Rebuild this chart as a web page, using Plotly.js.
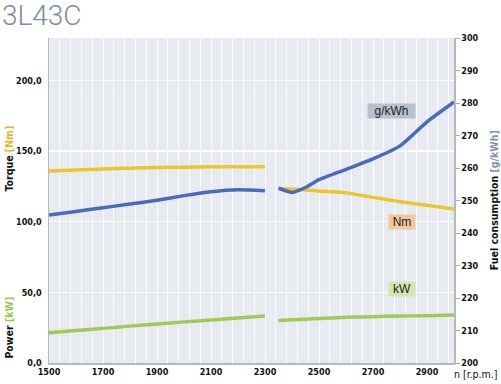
<!DOCTYPE html>
<html><head><meta charset="utf-8">
<script src="https://cdn.plot.ly/plotly-3.0.1.min.js"></script>
<style>html,body{margin:0;padding:0;background:#fff}#chart{width:501px;height:384px}</style>
</head><body><div id="chart"></div>
<script>
// rpm values (null = gap between measured segments)
var rpm = [1500,1600,1700,1800,1900,2000,2100,2200,2300,null,2350,2400,2450,2500,2600,2700,2800,2900,3000];
var torqueNm = [135.8,136.6,137.3,137.9,138.3,138.6,138.8,138.8,138.8,null,123.5,123.0,122.5,121.8,120.4,117.2,114.2,111.7,109.0];
var powerKW = [21.4,23.0,24.5,26.1,27.6,29.1,30.5,31.9,33.3,null,30.1,30.6,31.0,31.5,32.3,32.8,33.2,33.5,33.9];
var fuelGkWh = [245.5,246.6,247.8,248.9,250.1,251.5,252.7,253.3,253.0,null,253.8,252.5,254.0,256.4,259.6,262.8,266.8,274.2,280.3];
var xTicks = [1500,1700,1900,2100,2300,2500,2700,2900];
var leftTicks = [0,50,100,150,200];
var rightTicks = [200,210,220,230,240,250,260,270,280,290,300];

var condFont = '"DejaVu Sans Condensed","DejaVu Sans",sans-serif';
var tickFont = {family:condFont, size:9, color:'#111', weight:700};
var boxFont = {family:'"Liberation Sans",Arial,sans-serif', size:12, color:'#222'};

var traces = [
  {x:rpm, y:torqueNm, type:'scatter', mode:'lines', connectgaps:false, line:{color:'#ecc52f', width:3.5, shape:'spline', smoothing:0.6}, hoverinfo:'skip'},
  {x:rpm, y:powerKW, type:'scatter', mode:'lines', connectgaps:false, line:{color:'#9fca57', width:3.5, shape:'spline', smoothing:0.6}, hoverinfo:'skip'},
  {x:rpm, y:fuelGkWh, type:'scatter', mode:'lines', connectgaps:false, yaxis:'y2', line:{color:'#4a6bbd', width:3.5, shape:'spline', smoothing:0.6}, hoverinfo:'skip'}
];

var layout = {
  width:501, height:384,
  margin:{l:49, r:47, t:38, b:21},
  paper_bgcolor:'#ffffff', plot_bgcolor:'#e7ebf1',
  showlegend:false,
  separators:',.',
  xaxis:{range:[1500,3000], tickvals:xTicks, ticktext:xTicks.map(String), tickfont:tickFont,
    showgrid:true, gridcolor:'#ffffff', gridwidth:1,
    minor:{dtick:40, tick0:1500, showgrid:true, gridcolor:'#ffffff', gridwidth:1},
    showline:true, linecolor:'#b4b8bf', linewidth:1.5, ticks:'', zeroline:false, fixedrange:true},
  yaxis:{range:[0,230], tickvals:leftTicks, tickformat:'.1f', tickfont:tickFont, ticklabelstandoff:4,
    showgrid:true, gridcolor:'#ffffff', gridwidth:1.2, showline:true, linecolor:'#b4b8bf', linewidth:1.5,
    ticks:'', zeroline:false, fixedrange:true},
  yaxis2:{range:[200,300], overlaying:'y', side:'right', tickvals:rightTicks, tickfont:tickFont,
    showgrid:false, showline:true, linecolor:'#b4b8bf', linewidth:1.5, ticks:'outside', ticklen:4, tickcolor:'#a8acb3',
    zeroline:false, fixedrange:true},
  title:{text:'3L43C', x:0.004, xanchor:'left', yref:'container', y:0.985, yanchor:'top',
    font:{family:'Roboto, sans-serif', size:28, color:'#7a8da6', weight:300}},
  annotations:[
    {xref:'paper', yref:'paper', x:-0.098, y:0.63, xanchor:'center', yanchor:'middle', textangle:-90, showarrow:false,
      text:'Torque <span style="color:#e8b52c">[Nm]</span>',
      font:{family:condFont, size:10.5, color:'#111', weight:700}},
    {xref:'paper', yref:'paper', x:-0.098, y:0.11, xanchor:'center', yanchor:'middle', textangle:-90, showarrow:false,
      text:'Power <span style="color:#9cc850">[kW]</span>',
      font:{family:condFont, size:10.5, color:'#111', weight:700}},
    {xref:'paper', yref:'paper', x:1.098, y:0.5, xanchor:'center', yanchor:'middle', textangle:-90, showarrow:false,
      text:'Fuel consumption <span style="color:#8094b0">[g/kWh]</span>',
      font:{family:condFont, size:10.5, color:'#111', weight:700}},
    {xref:'paper', yref:'paper', x:1.110, y:-0.034, xanchor:'right', yanchor:'middle', showarrow:false,
      text:'n [r.p.m.]',
      font:{family:condFont, size:10.5, color:'#111'}},
    {xref:'x', yref:'y2', x:2861, y:277.5, xanchor:'right', yanchor:'middle', showarrow:false,
      text:'g/kWh', bgcolor:'#b7c0cf', borderpad:0, width:47, font:boxFont},
    {xref:'x', yref:'y', x:2861, y:99.8, xanchor:'right', yanchor:'middle', showarrow:false,
      text:'Nm', bgcolor:'#f2c89a', borderpad:0, width:26, font:boxFont},
    {xref:'x', yref:'y', x:2861, y:52.3, xanchor:'right', yanchor:'middle', showarrow:false,
      text:'kW', bgcolor:'#d2e6ae', borderpad:0, width:26, font:boxFont}
  ]
};

Plotly.newPlot('chart', traces, layout, {staticPlot:true, displayModeBar:false});
</script>
</body></html>
